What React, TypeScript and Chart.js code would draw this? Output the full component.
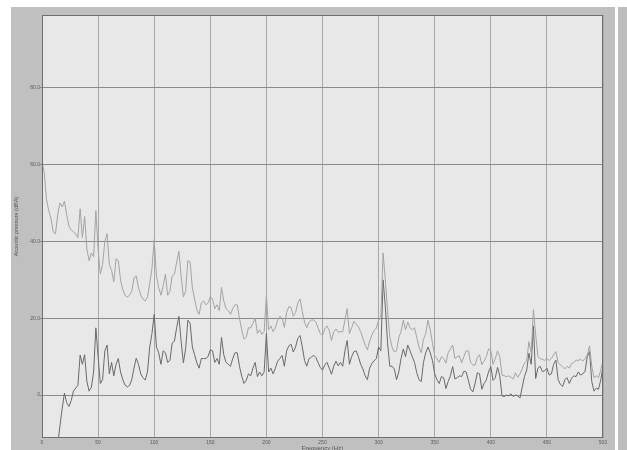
import React, { useEffect, useRef } from "react";
import { Chart, registerables } from "chart.js";

Chart.register(...registerables);

// Spectrum sampled every 2 Hz from 0 to 500 Hz
const FREQ_STEP_HZ = 2;

const UPPER_DBA = [
  60.5, 58, 51, 48, 46, 42.5, 42, 47, 50, 49,
  50.5, 47, 44, 43, 42.5, 42, 41, 48.5, 41, 46.5,
  38, 35, 37, 36, 48, 38, 31.5, 34, 40, 42,
  34, 32.5, 29.5, 35.5, 35, 30, 27.5, 26, 25.5, 26,
  27, 30.5, 31, 28, 26, 25, 24.5, 25.5, 29, 33,
  40.5, 31, 28, 26, 28.5, 31.5, 26, 27, 31, 31.5,
  34.5, 37.5, 31, 25.6, 27, 35, 34.6, 28, 25, 22.2,
  21, 24, 24.5, 23.5, 24, 25.6, 25, 22.5, 23.5, 22,
  28, 24.5, 22.5, 22, 21, 22.5, 23.5, 23.5, 20, 17,
  14.6, 15, 17.5, 17.5, 18.7, 20, 16, 17, 15.8, 16.5,
  26, 17, 18, 16.5, 17.5, 19.5, 20.5, 20, 17.6, 21.5,
  23, 22.8, 20.5, 21.5, 24, 25, 21.7, 19, 17.5, 19,
  19.5, 19.6, 19, 17.5, 16, 15.5, 17.2, 18, 16.8, 14.2,
  16.5, 17.2, 16.4, 16.5, 16.5, 19.5, 22.5, 16, 17.5, 19.2,
  18.5, 17.8, 16.5, 14.8, 13, 11.8, 14, 15.6, 16.8, 17.4,
  19.5, 20, 37, 30, 22, 15, 12.5, 11.2, 11.5, 15,
  16.5, 19.5, 17, 19, 17.5, 17, 17.5, 15, 12.5, 11,
  14.5, 16, 19.5, 17, 13.5, 10.2, 9.5, 8.5, 10, 9.5,
  8.3, 11, 12, 13, 9.5, 10, 10.2, 8.4, 10, 11.5,
  11.5, 8.5, 7.8, 7.8, 9.8, 10.5, 7.9, 8.8, 10, 12,
  11.7, 8, 9.5, 11.5, 10, 5.2, 5, 4.8, 5, 4.6,
  4.2, 5.8, 4.6, 5.5, 6.8, 8.3, 9, 13.9, 11, 22.2,
  15.7, 10, 9.5, 9.3, 9, 9.5, 9, 9.5, 10.5, 11.3,
  8.5, 7.8, 7.4, 6.8, 7.5, 7, 8.2, 8.5, 9.1, 9,
  9.3, 8.8, 9.5, 10.5, 12.8, 7.5, 4.5, 5, 4.5, 6.5,
  9,
];

const LOWER_DBA = [
  -40, -36, -32, -28, -25, -21, -17, -13, -8, -3.5,
  0.5, -2, -3, -1.5, 1, 1.8, 2.5, 10.4, 8, 10.5,
  3.5, 1, 2, 6, 17.5, 10, 3, 4, 11.5, 13,
  5.5, 8.5, 5, 8, 9.5, 6, 4, 2.6, 2.1, 2.5,
  4, 7, 9.6, 8, 5.5, 4.5, 3.9, 6, 12.5, 16,
  21, 12.5, 11, 8, 11.5, 11, 8.5, 9, 13.5, 14,
  17.5, 20.5, 14, 8.4, 12, 19.5, 18.7, 12.5, 10.5, 8.4,
  7, 9.5, 9.5, 9.5, 10, 11.8, 11.5, 8.5, 9.5, 8,
  15, 10.5, 8.5, 8, 7.5, 9.5, 11, 11, 7.5, 4.9,
  3, 3.8, 5.5, 5, 7, 8.5, 4.8, 6, 5, 6,
  16, 6, 7, 5.5, 7, 8.8, 9.5, 10.3, 7.5, 11.5,
  12.8, 13.2, 11.2, 12.5, 14.8, 15.5, 12.5, 9, 7.5, 9.5,
  9.8, 10.4, 9.8, 8.5, 7.2, 6.5, 7.8, 8.5, 7, 5.4,
  7.5, 8.8, 7.6, 8.5, 7.5, 11.5, 14.2, 8, 10, 11.3,
  11.5, 10, 8, 6.8, 5, 4, 7, 8.2, 8.9, 9.5,
  12.5, 11.5, 30, 23, 13.5, 7.5, 7.5, 6.8, 4, 6,
  9.5, 12, 10, 13, 11.5, 10, 8.5, 5.8, 4, 3.5,
  8.5, 11, 12.5, 11, 9, 5.5, 4, 3, 4.8, 4.5,
  1.7, 3.5, 5, 7.4, 4.2, 4.5, 5, 4.8, 6.2, 6,
  3.8, 1.5, 0.8, 3, 5.8, 5.5, 1.5, 3, 3.9, 6,
  7.4, 3.8, 4.5, 7.2, 5, -0.2, -0.4, 0, -0.2, 0.3,
  -0.4, 0, -0.2, -0.8, 2, 4.8, 6.5, 10.9, 8, 18,
  4.3, 7, 7.5, 6.1, 6.3, 7, 5.2, 5.5, 8, 9.1,
  4, 2.8, 2.2, 4, 4.5, 3, 4.4, 5, 4.8, 6,
  5.2, 5.5, 6.2, 10, 11.3, 3.5, 1, 1.8, 1.5, 3.9,
  7.4,
];

const Y_TICKS = [0, 20, 40, 60, 80];
const X_TICKS = [0, 50, 100, 150, 200, 250, 300, 350, 400, 450, 500];
const X_TITLE = "Frequency (Hz)";
const Y_TITLE = "Acoustic pressure (dBA)";

const toPoints = (vals: number[]) =>
  vals.map((v, i) => ({ x: i * FREQ_STEP_HZ, y: v }));

const panelPlugin = {
  id: "panelPlugin",
  beforeDraw(chart: any) {
    const { ctx, chartArea } = chart;
    const { left, top, right, bottom } = chartArea;
    ctx.save();
    ctx.fillStyle = "#ffffff";
    ctx.fillRect(0, 0, chart.width, chart.height);
    ctx.fillStyle = "#c0c0c0";
    ctx.fillRect(11, 7, 604, chart.height - 7);
    ctx.fillStyle = "#bdbdbd";
    ctx.fillRect(618, 7, chart.width - 618, chart.height - 7);
    ctx.fillStyle = "#e8e8e8";
    ctx.fillRect(left, top, right - left, bottom - top);
    ctx.restore();
  },
  afterDatasetsDraw(chart: any) {
    const { ctx, chartArea } = chart;
    const { left, top, right, bottom } = chartArea;
    ctx.save();
    ctx.strokeStyle = "#6e6e6e";
    ctx.lineWidth = 1;
    ctx.strokeRect(left + 0.5, top + 0.5, right - left - 1, bottom - top - 1);
    ctx.restore();
  },
};

export default function App() {
  const ref = useRef<HTMLCanvasElement | null>(null);

  useEffect(() => {
    if (!ref.current) return;
    const tickFont = { family: "'Liberation Sans', Arial, sans-serif", size: 5 };
    const chart = new Chart(ref.current, {
      type: "line",
      data: {
        datasets: [
          {
            label: "Upper",
            data: toPoints(UPPER_DBA),
            borderColor: "#a4a4a4",
            borderWidth: 1,
            pointRadius: 0,
            tension: 0,
            fill: false,
            clip: 0,
          },
          {
            label: "Lower",
            data: toPoints(LOWER_DBA),
            borderColor: "#6a6a6a",
            borderWidth: 1,
            pointRadius: 0,
            tension: 0,
            fill: false,
            clip: 0,
          },
        ],
      },
      options: {
        animation: false,
        responsive: false,
        devicePixelRatio: 1,
        events: [],
        layout: { padding: { left: 0, top: 15, right: 24, bottom: 0 } },
        plugins: {
          legend: { display: false },
          tooltip: { enabled: false },
          title: { display: false },
        },
        scales: {
          x: {
            type: "linear",
            min: 0,
            max: 500,
            afterBuildTicks: (scale: any) => {
              scale.ticks = X_TICKS.map((v) => ({ value: v }));
            },
            afterFit: (scale: any) => {
              scale.height = 12;
            },
            border: { display: false },
            grid: { color: "#a8a8a8", lineWidth: 1, drawTicks: false },
            ticks: {
              autoSkip: false,
              maxRotation: 0,
              padding: 2,
              color: "#5a5a5a",
              font: tickFont,
              callback: (v: any) => String(v),
            },
            title: {
              display: true,
              text: X_TITLE,
              color: "#555555",
              font: { family: "'Liberation Sans', Arial, sans-serif", size: 6 },
              padding: { top: 0, bottom: -2 },
            },
          },
          y: {
            type: "linear",
            min: -11.2,
            max: 99,
            afterBuildTicks: (scale: any) => {
              scale.ticks = Y_TICKS.map((v) => ({ value: v }));
            },
            afterFit: (scale: any) => {
              scale.width = 42;
            },
            border: { display: false },
            grid: { color: "#8a8a8a", lineWidth: 1, drawTicks: true, tickLength: 2 },
            ticks: {
              autoSkip: false,
              padding: 0,
              color: "#5a5a5a",
              font: tickFont,
              callback: (v: any) => (v === 0 ? "0" : Number(v).toFixed(1)),
            },
            title: {
              display: true,
              text: Y_TITLE,
              color: "#555555",
              font: { family: "'Liberation Sans', Arial, sans-serif", size: 5.5 },
              padding: { top: 13, bottom: 0 },
            },
          },
        },
      },
      plugins: [panelPlugin],
    });
    return () => chart.destroy();
  }, []);

  return (
    <div style={{ position: "fixed", left: 0, top: 0, width: 627, height: 450, background: "#fff" }}>
      <canvas ref={ref} width={627} height={450} style={{ display: "block", width: 627, height: 450 }} />
    </div>
  );
}
